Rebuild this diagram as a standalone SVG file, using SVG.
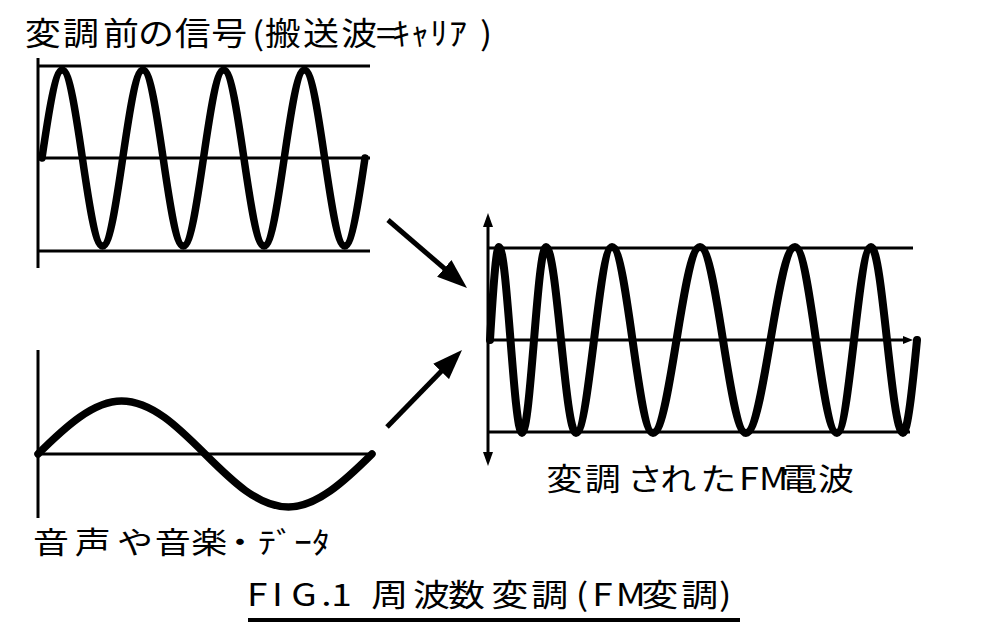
<svg xmlns="http://www.w3.org/2000/svg" width="984" height="628" viewBox="0 0 984 628">
<style>
.ax{stroke:#000;stroke-width:3;fill:none}
.wave{stroke:#000;stroke-width:7.5;fill:none;stroke-linecap:round;stroke-linejoin:round}
.arr{stroke:#000;stroke-width:5;fill:none}
.lbl{font-family:"Noto Sans CJK JP","Noto Sans CJK SC",sans-serif;font-size:36px;font-weight:400;fill:#000}
</style>
<defs>
<marker id="ah" markerUnits="userSpaceOnUse" viewBox="0 0 32 22" markerWidth="32" markerHeight="22" refX="2" refY="11" orient="auto"><path d="M0,0 L30,11 L0,22 Z" fill="#000"/></marker>
<marker id="axh" markerUnits="userSpaceOnUse" viewBox="0 0 14 10" markerWidth="14" markerHeight="10" refX="1" refY="5" orient="auto-start-reverse"><path d="M0,0 L14,5 L0,10 Z" fill="#000"/></marker>
<marker id="axs" markerUnits="userSpaceOnUse" viewBox="0 0 10 8" markerWidth="10" markerHeight="8" refX="1" refY="4" orient="auto"><path d="M0,0 L10,4 L0,8 Z" fill="#000"/></marker>
</defs>
<rect width="984" height="628" fill="#fff"/>

<g id="carrier">
<line class="ax" x1="38" y1="58" x2="38" y2="268"/>
<line class="ax" x1="38" y1="66" x2="370" y2="66"/>
<line class="ax" x1="38" y1="158" x2="370" y2="158"/>
<line class="ax" x1="38" y1="251" x2="370" y2="251"/>
<path class="wave" d="M42,158 C48.73,111.9 55.46,70 62.19,70 C76.86,70 87.89,246 102.56,246 C117.23,246 128.27,70 142.94,70 C157.61,70 168.64,246 183.31,246 C197.98,246 209.02,70 223.69,70 C238.36,70 249.39,246 264.06,246 C278.73,246 289.77,70 304.44,70 C319.11,70 330.14,246 344.81,246 C351.54,246 358.27,204.08 365,158"/>
<text class="lbl" transform="translate(0,44.7) scale(1,0.89)" x="24.7 63 103 138 174.7 211.3 252 264.7 303 341.3 376 392 411 430 449 480">変調前の信号(搬送波=ｷｬﾘｱ)</text>
</g>

<g id="signal">
<line class="ax" x1="38" y1="350" x2="38" y2="518"/>
<line class="ax" x1="38" y1="454" x2="373" y2="454"/>
<path class="wave" d="M38,454 C65.83,426.25 93.67,401 121.5,401 C182.19,401 227.81,507 288.5,507 C316.33,507 344.17,481.75 372,454"/>
<text class="lbl" transform="translate(0,553) scale(1,0.83)" x="33 74.7 117 154.7 191.3 222 258 276 294 312">音声や音楽・ﾃﾞｰﾀ</text>
</g>

<g id="fm">
<line class="ax" x1="488" y1="226" x2="488" y2="453" marker-start="url(#axh)" marker-end="url(#axh)"/>
<line class="ax" x1="488" y1="248" x2="913" y2="248"/>
<line class="ax" x1="488" y1="340" x2="904" y2="340" marker-end="url(#axs)"/>
<line class="ax" x1="488" y1="432" x2="910" y2="432"/>
<path class="wave" style="stroke-width:8" d="M490,340 C493,291.31 496,247 499,247 C507.36,247 513.64,433 522,433 C530.72,433 537.28,247 546,247 C556.9,247 565.1,433 576,433 C589.08,433 598.92,247 612,247 C626.9,247 638.1,433 653,433 C670.08,433 682.92,247 700,247 C716.72,247 729.28,433 746,433 C763.81,433 777.19,247 795,247 C810.26,247 821.74,433 837,433 C849.36,433 858.64,247 871,247 C882.63,247 891.37,433 903,433 C907.67,433 912.33,388.69 917,340"/>
<text class="lbl" transform="translate(0,490) scale(1,0.85)" x="546.3 584.7 627 660.3 700.3 739 759 781.3 818">変調されたFM電波</text>
</g>

<g id="connectors">
<line class="arr" x1="388" y1="220" x2="445.8" y2="269.7" marker-end="url(#ah)"/>
<line class="arr" x1="387" y1="427" x2="442.5" y2="370" marker-end="url(#ah)"/>
</g>

<g id="caption">
<text class="lbl" style="font-size:37px" transform="translate(0,606) scale(1,0.84)" x="247 272 291.3 321.3 331.3 351 371.3 413 448 491.3 531.3 575.7 592.3 615.7 641.3 681.3 719">FIG.1 周波数変調(FM変調)</text>
<rect x="248" y="618" width="492" height="4" fill="#000"/>
</g>
</svg>
